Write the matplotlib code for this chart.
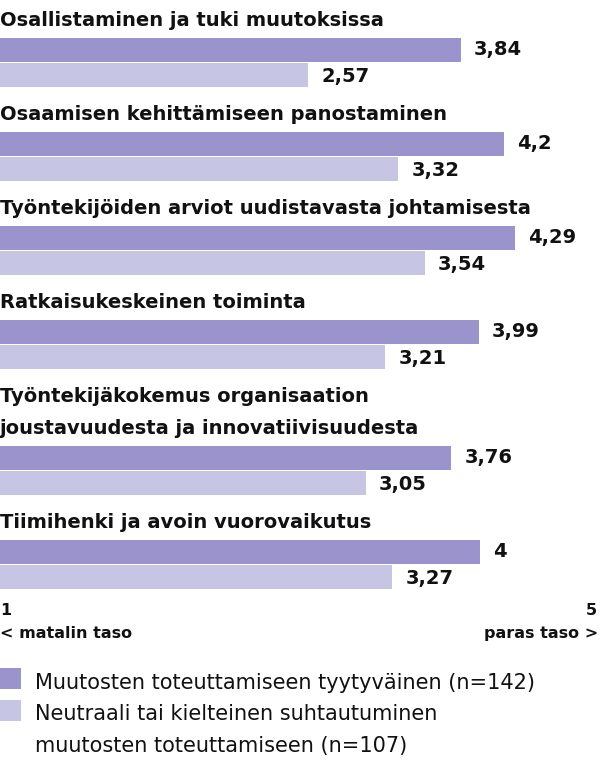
import matplotlib
matplotlib.use("Agg")
import matplotlib.pyplot as plt
from matplotlib.patches import Rectangle

categories = [
    "Osallistaminen ja tuki muutoksissa",
    "Osaamisen kehittämiseen panostaminen",
    "Työntekijöiden arviot uudistavasta johtamisesta",
    "Ratkaisukeskeinen toiminta",
    "Työntekijäkokemus organisaation\njoustavuudesta ja innovatiivisuudesta",
    "Tiimihenki ja avoin vuorovaikutus",
]
satisfied = [3.84, 4.2, 4.29, 3.99, 3.76, 4.0]
neutral = [2.57, 3.32, 3.54, 3.21, 3.05, 3.27]
labels_sat = ["3,84", "4,2", "4,29", "3,99", "3,76", "4"]
labels_neu = ["2,57", "3,32", "3,54", "3,21", "3,05", "3,27"]
legend_labels = ["Muutosten toteuttamiseen tyytyväinen (n=142)",
                 "Neutraali tai kielteinen suhtautuminen\nmuutosten toteuttamiseen (n=107)"]

DARK = "#9b93cc"
LIGHT = "#c6c5e3"
TXT = "#111111"
FONT = ["DejaVu Sans"]

W, H = 600, 761
fig = plt.figure(figsize=(W / 100, H / 100), dpi=100)
ax = fig.add_axes([0, 0, 1, 1])
ax.set_xlim(0, 5)
ax.set_ylim(H, 0)
ax.axis("off")

px = 5 / W  # one pixel in x data units
bh = 23.5
top = 38
for i, cat in enumerate(categories):
    lines = cat.split("\n")
    top += 32 * (len(lines) - 1)
    yd = top + bh / 2
    yl = top + 25 + bh / 2
    # title lines, last baseline 12 px above the bar
    for k, line in enumerate(lines):
        ax.text(0, top - 12 - 32 * (len(lines) - 1 - k), line, fontsize=14,
                fontweight="bold", color=TXT, family=FONT, va="baseline", ha="left")
    ax.barh(yd, satisfied[i], height=bh, color=DARK, left=0)
    ax.barh(yl, neutral[i], height=bh, color=LIGHT, left=0)
    ax.text(satisfied[i] + 13 * px, yd, labels_sat[i], fontsize=14, fontweight="bold",
            color=TXT, family=FONT, va="center", ha="left")
    ax.text(neutral[i] + 13 * px, yl + 1.5, labels_neu[i], fontsize=14, fontweight="bold",
            color=TXT, family=FONT, va="center", ha="left")
    top += 94

# scale ends
ax.text(0, 615, "1", fontsize=11.5, fontweight="bold", color=TXT, family=FONT, va="baseline")
ax.text(0, 638, "< matalin taso", fontsize=11.5, fontweight="bold", color=TXT, family=FONT, va="baseline")
ax.text(5 - 3 * px, 615, "5", fontsize=11.5, fontweight="bold", color=TXT, family=FONT,
        va="baseline", ha="right")
ax.text(5 - 2 * px, 638, "paras taso >", fontsize=11.5, fontweight="bold", color=TXT, family=FONT,
        va="baseline", ha="right")

# legend
base = 689
for j, (lab, col) in enumerate(zip(legend_labels, [DARK, LIGHT])):
    sq_top = 668 + 32 * j
    ax.add_patch(Rectangle((0, sq_top), 21 * px, 21, color=col, lw=0))
    for line in lab.split("\n"):
        ax.text(35 * px, base, line, fontsize=15, color=TXT, family=FONT,
                va="baseline", ha="left")
        base += 31.5

fig.savefig("out.png", dpi=100)
